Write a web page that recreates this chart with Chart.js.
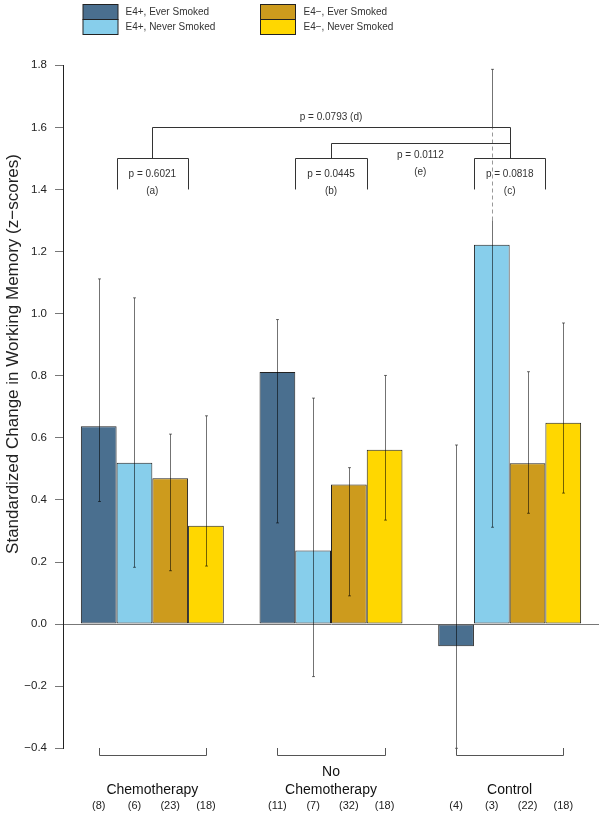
<!DOCTYPE html>
<html>
<head>
<meta charset="utf-8">
<script src="https://cdn.jsdelivr.net/npm/chart.js@4/dist/chart.umd.min.js"></script>
<style>
  body { margin: 0; background: #fff; }
  #wrap { width: 603px; height: 815px; }
</style>
</head>
<body>
<div id="wrap"><canvas id="memChart" width="603" height="815"></canvas></div>
<script>
// groups along the x axis
const groupNames = [['Chemotherapy'], ['No', 'Chemotherapy'], ['Control']];
const seriesNames = ['E4+, Ever Smoked', 'E4+, Never Smoked', 'E4\u2212, Ever Smoked', 'E4\u2212, Never Smoked'];
const seriesColors = ['#4A6F8F', '#87CEEB', '#CD9B1D', '#FFD700'];

// bar heights (z-scores), one value per group
const e4posEver = [0.637, 0.812, -0.071];
const e4posNever = [0.520, 0.237, 1.222];
const e4negEver = [0.470, 0.450, 0.518];
const e4negNever = [0.317, 0.562, 0.649];

// error bar ends
const e4posEverLow = [0.395, 0.326, -0.400];
const e4posEverHigh = [1.112, 0.981, 0.577];
const e4posNeverLow = [0.183, -0.169, 0.312];
const e4posNeverHigh = [1.051, 0.728, 1.787];
const e4negEverLow = [0.172, 0.091, 0.357];
const e4negEverHigh = [0.612, 0.504, 0.813];
const e4negNeverLow = [0.187, 0.335, 0.422];
const e4negNeverHigh = [0.671, 0.801, 0.970];

// sample sizes under each bar
const e4posEverN = [8, 11, 4];
const e4posNeverN = [6, 7, 3];
const e4negEverN = [23, 32, 22];
const e4negNeverN = [18, 18, 18];

const yTicks = [-0.4, -0.2, 0.0, 0.2, 0.4, 0.6, 0.8, 1.0, 1.2, 1.4, 1.6, 1.8];

// p-value comparisons inside each group
const withinP = ['p = 0.6021', 'p = 0.0445', 'p = 0.0818'];
const withinTag = ['(a)', '(b)', '(c)'];
// comparisons between groups: [from group, to group, bracket level, text]
const betweenFrom = [0, 1];
const betweenTo = [2, 2];
const betweenLevel = [1.6, 1.55];
const betweenText = ['p = 0.0793 (d)', 'p = 0.0112'];
const betweenTag = ['', '(e)'];

// part of the control / never smoked error bar drawn dashed (behind the brackets)
const dashedSeries = 1, dashedGroup = 2, dashedFrom = 1.30, dashedTo = 1.60;

const seriesValues = [e4posEver, e4posNever, e4negEver, e4negNever];
const seriesLow = [e4posEverLow, e4posNeverLow, e4negEverLow, e4negNeverLow];
const seriesHigh = [e4posEverHigh, e4posNeverHigh, e4negEverHigh, e4negNeverHigh];
const seriesN = [e4posEverN, e4posNeverN, e4negEverN, e4negNeverN];

const FONT = '"Liberation Sans", Arial, Helvetica, sans-serif';

const extrasPlugin = {
  id: 'extras',
  afterDatasetsDraw(chart) {
    const ctx = chart.ctx;
    const y = chart.scales.y;
    ctx.save();
    ctx.strokeStyle = 'rgba(0,0,0,0.55)';
    ctx.lineWidth = 1;
    seriesValues.forEach((vals, s) => {
      const meta = chart.getDatasetMeta(s);
      vals.forEach((v, g) => {
        const x = Math.round(meta.data[g].x) + 0.5;
        const lo = y.getPixelForValue(seriesLow[s][g]);
        const hi = y.getPixelForValue(seriesHigh[s][g]);
        if (s === dashedSeries && g === dashedGroup) {
          const d1 = y.getPixelForValue(dashedFrom);
          const d2 = y.getPixelForValue(dashedTo);
          ctx.beginPath();
          ctx.moveTo(x, lo); ctx.lineTo(x, d1);
          ctx.moveTo(x, d2); ctx.lineTo(x, hi);
          ctx.stroke();
          ctx.save();
          ctx.strokeStyle = 'rgba(0,0,0,0.4)';
          ctx.setLineDash([4, 3]);
          ctx.beginPath();
          ctx.moveTo(x, d1); ctx.lineTo(x, d2);
          ctx.stroke();
          ctx.restore();
        } else {
          ctx.beginPath();
          ctx.moveTo(x, lo); ctx.lineTo(x, hi);
          ctx.stroke();
        }
        ctx.beginPath();
        ctx.moveTo(x - 1.5, lo); ctx.lineTo(x + 1.5, lo);
        ctx.moveTo(x - 1.5, hi); ctx.lineTo(x + 1.5, hi);
        ctx.stroke();
      });
    });
    ctx.restore();
  },
  afterDraw(chart) {
    const ctx = chart.ctx;
    const xs = chart.scales.x;
    const y = chart.scales.y;
    const catW = xs.getPixelForValue(1) - xs.getPixelForValue(0);
    const gx = (g, d) => xs.getPixelForValue(g) + d * catW;
    ctx.save();

    // legend
    ctx.font = '10px ' + FONT;
    ctx.textBaseline = 'middle';
    ctx.textAlign = 'left';
    const legX = [83, 260.5];
    const legTxt = [125.5, 303.5];
    const legY = [4.5, 19.5];
    seriesNames.forEach((name, i) => {
      const col = Math.floor(i / 2), row = i % 2;
      ctx.fillStyle = seriesColors[i];
      ctx.fillRect(legX[col], legY[row], 35, 15);
      ctx.strokeStyle = '#222';
      ctx.lineWidth = 1;
      ctx.strokeRect(legX[col], legY[row], 35, 15);
      ctx.fillStyle = '#333';
      ctx.fillText(name, legTxt[col], legY[row] + 7.5);
    });

    // y axis title
    ctx.save();
    ctx.translate(13, 354);
    ctx.rotate(-Math.PI / 2);
    ctx.textAlign = 'center';
    ctx.textBaseline = 'middle';
    ctx.font = '17px ' + FONT;
    ctx.fillStyle = '#222';
    ctx.fillText('Standardized Change in Working Memory (z\u2212scores)', 0, 0);
    ctx.restore();

    // p-value brackets
    ctx.strokeStyle = '#333';
    ctx.lineWidth = 1;
    ctx.fillStyle = '#333';
    ctx.font = '10px ' + FONT;
    ctx.textAlign = 'center';
    const px = v => Math.round(v) + 0.5;
    const yTop = px(y.getPixelForValue(1.5));
    const yLeg = y.getPixelForValue(1.4);
    withinP.forEach((t, g) => {
      const a = px(gx(g, -0.2)), b = px(gx(g, 0.2));
      ctx.beginPath();
      ctx.moveTo(a, yLeg); ctx.lineTo(a, yTop); ctx.lineTo(b, yTop); ctx.lineTo(b, yLeg);
      ctx.stroke();
      ctx.fillText(t, gx(g, 0), y.getPixelForValue(1.45));
      ctx.fillText(withinTag[g], gx(g, 0), y.getPixelForValue(1.395));
    });
    betweenFrom.forEach((f, i) => {
      const a = px(gx(f, 0)), b = px(gx(betweenTo[i], 0));
      const lv = px(y.getPixelForValue(betweenLevel[i]));
      ctx.beginPath();
      ctx.moveTo(a, yTop); ctx.lineTo(a, lv); ctx.lineTo(b, lv); ctx.lineTo(b, yTop);
      ctx.stroke();
    });
    ctx.fillText(betweenText[0], (gx(0, 0) + gx(2, 0)) / 2, y.getPixelForValue(1.633));
    ctx.fillText(betweenText[1], (gx(1, 0) + gx(2, 0)) / 2, y.getPixelForValue(1.51));
    ctx.fillText(betweenTag[1], (gx(1, 0) + gx(2, 0)) / 2, y.getPixelForValue(1.457));

    // group brackets, names and sample sizes under the axis
    ctx.strokeStyle = '#555';
    groupNames.forEach((lines, g) => {
      const a = px(gx(g, -0.3)), b = px(gx(g, 0.3));
      ctx.beginPath();
      ctx.moveTo(a, 748); ctx.lineTo(a, 755.5); ctx.lineTo(b, 755.5); ctx.lineTo(b, 748);
      ctx.stroke();
      ctx.fillStyle = '#111';
      ctx.font = '14px ' + FONT;
      if (lines.length === 2) {
        ctx.fillText(lines[0], gx(g, 0), 772);
        ctx.fillText(lines[1], gx(g, 0), 790);
      } else {
        ctx.fillText(lines[0], gx(g, 0), 790);
      }
      ctx.font = '11px ' + FONT;
      ctx.fillStyle = '#222';
      seriesN.forEach((ns, s) => {
        const bx = chart.getDatasetMeta(s).data[g].x;
        ctx.fillText('(' + ns[g] + ')', bx, 806);
      });
    });
    ctx.restore();
  }
};

const ctx = document.getElementById('memChart').getContext('2d');
const memChart = new Chart(ctx, {
  type: 'bar',
  data: {
    labels: groupNames.map(l => l.join(' ')),
    datasets: seriesValues.map((vals, i) => ({
      label: seriesNames[i],
      data: vals,
      backgroundColor: seriesColors[i],
      borderColor: '#222',
      borderWidth: 1,
      borderSkipped: false,
      barPercentage: 1.0,
      categoryPercentage: 0.8
    }))
  },
  options: {
    responsive: false,
    animation: false,
    layout: { padding: { top: 65.3, right: 4, bottom: 66.7, left: 0 } },
    plugins: {
      legend: { display: false },
      tooltip: { enabled: false }
    },
    scales: {
      x: { display: false, offset: true },
      y: {
        min: -0.4,
        max: 1.8,
        afterFit(scale) { scale.width = 63; },
        afterBuildTicks(scale) { scale.ticks = yTicks.map(v => ({ value: v })); },
        ticks: {
          color: '#222',
          padding: 8,
          font: { family: FONT, size: 11.5 },
          callback: v => v.toFixed(1).replace('-', '\u2212')
        },
        border: { display: true, color: '#222', width: 1 },
        grid: {
          color: c => (c.tick && Math.abs(c.tick.value) < 1e-9 ? '#777' : 'rgba(0,0,0,0)'),
          tickColor: '#777',
          tickLength: 8,
          drawOnChartArea: true
        }
      }
    }
  },
  plugins: [extrasPlugin]
});
</script>
</body>
</html>
